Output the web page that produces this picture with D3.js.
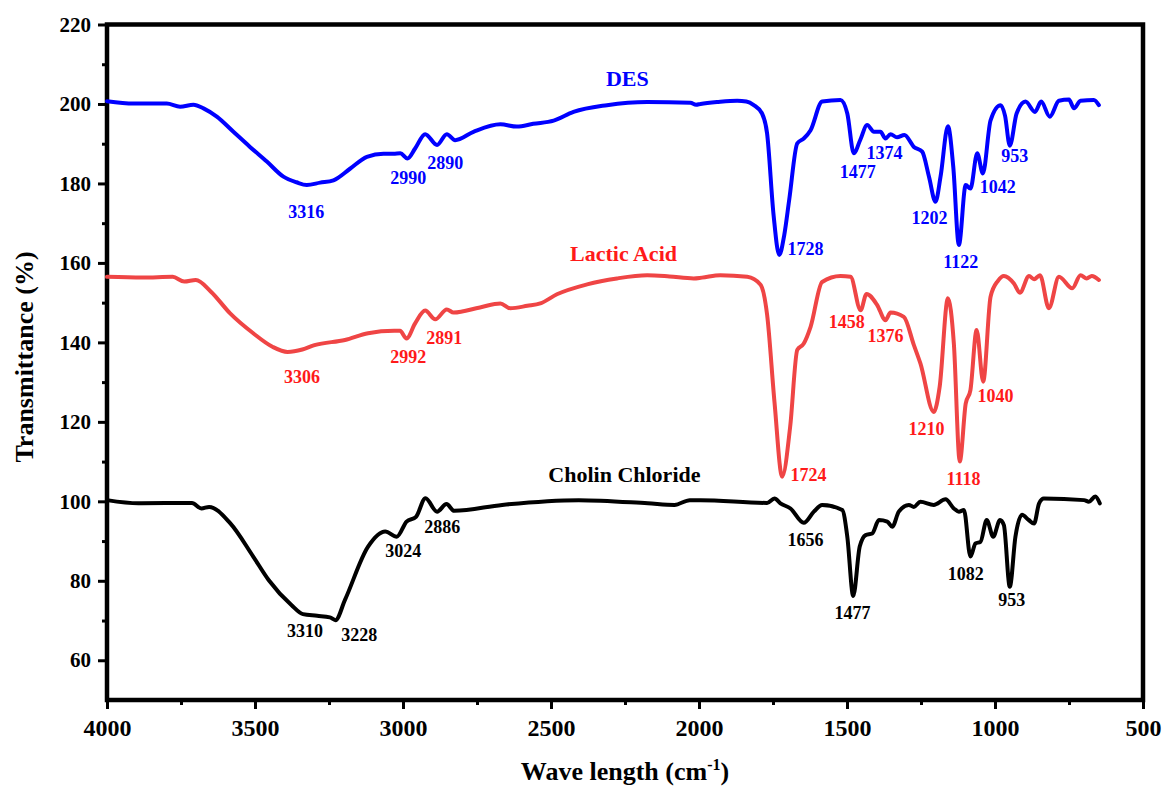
<!DOCTYPE html>
<html>
<head>
<meta charset="utf-8">
<script src="https://cdn.jsdelivr.net/npm/d3@7"></script>
<style>
  body { margin: 0; background: #fff; }
  text { font-family: "Liberation Serif", "Times New Roman", serif; font-weight: bold; }
</style>
</head>
<body>
<div id="chart"></div>
<script>
// spectra: [wavenumber, transmittance]
var desData = [[4000,200.7],[3910,200.1],[3798,200.1],[3753,199.3],[3708,199.8],[3674,198.9],[3629,196.8],[3573,193],[3517,189.2],[3460,185.5],[3404,181.7],[3360,180.3],[3325,179.6],[3280,180.2],[3235,180.8],[3179,183.7],[3122,186.7],[3066,187.5],[3032,187.5],[3009,187.6],[2985,186.3],[2959,188.8],[2925,192.4],[2885,189.7],[2852,192.4],[2824,190.9],[2762,193],[2671,194.9],[2615,194.3],[2560,195],[2491,195.8],[2424,198],[2311,199.7],[2175,200.5],[2029,200.3],[2010,199.8],[1995,200],[1935,200.5],[1871,200.8],[1840,200.6],[1815,199.7],[1787,197.6],[1770,192.6],[1748,172],[1729,162],[1712,167],[1695,176],[1668,190.1],[1646,191.3],[1623,193.4],[1584,200.6],[1522,201],[1499,197.6],[1477,187.6],[1455,191],[1432,194.7],[1409,193],[1387,193],[1370,191.3],[1353,192.4],[1331,191.6],[1306,192.2],[1274,189.2],[1246,188],[1223,181.7],[1201,175.4],[1184,181.7],[1159,194.4],[1141,184.2],[1122,164.5],[1099,179.6],[1083,178.7],[1060,187.6],[1041,182.5],[1015,195.9],[981,199.7],[966,197],[950,189.5],[927,197.6],[897,200.6],[865,198],[844,200.6],[815,196.8],[784,200.8],[750,201.1],[733,198.9],[711,200.8],[666,201],[649,199.7]]

var lacticData = [[4000,156.5],[3880,156.3],[3778,156.5],[3739,155.3],[3700,155.7],[3648,152.7],[3584,147.3],[3506,142.3],[3441,138.9],[3390,137.6],[3340,138.2],[3299,139.3],[3196,140.6],[3118,142.3],[3030,142.9],[3010,142.9],[2988,141],[2959,144.8],[2925,148],[2891,145.8],[2852,148.3],[2829,147.5],[2740,148.8],[2671,149.8],[2638,148.6],[2580,149.2],[2536,149.8],[2480,152.1],[2378,154.6],[2277,156.1],[2175,156.9],[2100,156.6],[2018,156.1],[1990,156.3],[1928,156.9],[1837,156.5],[1792,154.5],[1770,147],[1745,125],[1719,106.2],[1692,118.8],[1668,138.1],[1646,139.7],[1623,143.9],[1584,155.2],[1522,156.7],[1488,156.5],[1454,148.1],[1434,152.2],[1398,149.4],[1370,145.6],[1353,147.5],[1308,146.4],[1274,139.3],[1252,134.7],[1207,122.5],[1187,128.8],[1159,151.1],[1139,139.7],[1119,110],[1099,124.6],[1083,128],[1062,143.1],[1040,130.1],[1015,151.5],[990,155.5],[970,156.7],[936,154.8],[916,152.5],[885,156.7],[868,155.9],[848,156.9],[818,148.6],[784,156.5],[739,153.6],[711,156.9],[690,156.1],[673,156.7],[649,155.7]]

var cholinData = [[4000,100.3],[3894,99.5],[3713,99.6],[3681,98.2],[3655,98.6],[3584,94.5],[3506,86.1],[3454,80.2],[3377,73.9],[3338,71.6],[3290,71.2],[3247,70.8],[3228,70.1],[3196,75.2],[3118,88.6],[3060,92.4],[3021,91.1],[2988,94.9],[2956,96.1],[2924,100.8],[2885,97.4],[2853,99.3],[2827,97.6],[2665,99.1],[2406,100.3],[2173,99.5],[2083,99.1],[2031,100.3],[1995,100.3],[1770,99.6],[1745,100.7],[1725,99.5],[1691,98.2],[1646,94.6],[1612,97.4],[1584,99.1],[1516,97.8],[1499,91.1],[1479,76.2],[1457,88.6],[1437,91.5],[1415,91.9],[1392,95.3],[1364,94.9],[1347,93.6],[1325,97.4],[1291,99.1],[1274,98.6],[1252,99.9],[1207,99.1],[1167,100.5],[1139,98.2],[1122,97.4],[1105,97.8],[1083,86.1],[1066,89.4],[1049,89.8],[1028,95.3],[1006,91.1],[983,95.3],[970,94],[950,78.5],[931,91.1],[909,96.6],[886,95.3],[868,94.4],[851,99.5],[835,100.7],[699,100.3],[683,99.9],[661,101.2],[646,99.5]]

// peak labels: [text, wavenumber, transmittance, anchor]
var desPeaks = [["3316",3327,171.3,"middle"],["2990",2982,179.9,"middle"],["2890",2857,183.6,"middle"],["1728",1701,162,"start"],["1477",1464,181.4,"middle"],["1374",1373,186.2,"middle"],["1202",1221,169.8,"middle"],["1122",1116,158.7,"middle"],["1042",991,177.6,"middle"],["953",933,185.4,"middle"]]
var lacticPeaks = [["3306",3341,129.8,"middle"],["2992",2982,134.8,"middle"],["2891",2861,139.6,"middle"],["1724",1691,105.1,"start"],["1458",1501,143.6,"middle"],["1376",1370,140.1,"middle"],["1210",1231,116.7,"middle"],["1118",1106,104.1,"middle"],["1040",998,125,"middle"]]
var cholinPeaks = [["3310",3331,65.9,"middle"],["3228",3148,64.8,"middle"],["3024",2999,86,"middle"],["2886",2867,92,"middle"],["1656",1640,88.8,"middle"],["1477",1481,70.4,"middle"],["1082",1099,80.2,"middle"],["953",943,73.7,"middle"]]

var seriesNames = ["DES", "Lactic Acid", "Cholin Chloride"]
var namePos = [[2242,204.5],[2255,160.5],[2252,104.9]]

var xTicks = [4000,3500,3000,2500,2000,1500,1000,500]
var xMinor = [3750,3250,2750,2250,1750,1250,750]
var yTicks = [60,80,100,120,140,160,180,200,220]
var yMinor = [70,90,110,130,150,170,190,210]

var svg_width = 1163, svg_height = 787
var plotLeft = 107, plotRight = 1143, plotTop = 24.5, plotBottom = 700

var svg = d3.select("#chart")
  .append("svg")
  .attr("width", svg_width)
  .attr("height", svg_height)

var xScale = d3.scaleLinear().domain([4000, 500]).range([plotLeft, plotRight])
var yScale = d3.scaleLinear().domain([50, 220]).range([plotBottom, plotTop])

// minor ticks first, then major with labels
svg.append("g")
  .attr("transform", `translate(0, ${plotBottom})`)
  .call(d3.axisBottom(xScale).tickValues(xMinor).tickSize(5).tickFormat(""))
  .call(g => g.select(".domain").remove())
  .selectAll("line").attr("stroke-width", 3)

svg.append("g")
  .attr("transform", `translate(${plotLeft}, 0)`)
  .call(d3.axisLeft(yScale).tickValues(yMinor).tickSize(5).tickFormat(""))
  .call(g => g.select(".domain").remove())
  .selectAll("line").attr("stroke-width", 3)

var xAxis = svg.append("g")
  .attr("transform", `translate(0, ${plotBottom})`)
  .call(d3.axisBottom(xScale).tickValues(xTicks).tickSize(9).tickPadding(10).tickFormat(d3.format("d")))
xAxis.select(".domain").remove()
xAxis.selectAll("line").attr("stroke-width", 3)
xAxis.selectAll("text")
  .style("font-size", "24px")
  .attr("fill", "#000")

var yAxis = svg.append("g")
  .attr("transform", `translate(${plotLeft}, 0)`)
  .call(d3.axisLeft(yScale).tickValues(yTicks).tickSize(9).tickPadding(7))
yAxis.select(".domain").remove()
yAxis.selectAll("line").attr("stroke-width", 3)
yAxis.selectAll("text")
  .style("font-size", "21px")
  .attr("fill", "#000")

// frame
svg.append("rect")
  .attr("x", plotLeft).attr("y", plotTop)
  .attr("width", plotRight - plotLeft).attr("height", plotBottom - plotTop)
  .attr("fill", "none")
  .attr("stroke", "#000")
  .attr("stroke-width", 4.5)

var line = d3.line()
  .x(d => xScale(d[0]))
  .y(d => yScale(d[1]))
  .curve(d3.curveMonotoneX)

var series = [
  { data: desData, peaks: desPeaks, line: "#0000ff", text: "#0000ff" },
  { data: lacticData, peaks: lacticPeaks, line: "#ef4545", text: "#ff1a1a" },
  { data: cholinData, peaks: cholinPeaks, line: "#000000", text: "#000000" }
]

series.forEach((s, i) => {
  svg.append("path")
    .datum(s.data)
    .attr("d", line)
    .attr("fill", "none")
    .attr("stroke", s.line)
    .attr("stroke-width", 4)
    .attr("stroke-linejoin", "round")
    .attr("stroke-linecap", "round")

  svg.append("g")
    .selectAll("text")
    .data(s.peaks)
    .enter()
      .append("text")
      .attr("x", d => xScale(d[1]))
      .attr("y", d => yScale(d[2]))
      .attr("text-anchor", d => d[3])
      .attr("fill", s.text)
      .style("font-size", "18px")
      .text(d => d[0])

  svg.append("text")
    .attr("x", xScale(namePos[i][0]))
    .attr("y", yScale(namePos[i][1]))
    .attr("text-anchor", "middle")
    .attr("fill", s.text)
    .style("font-size", "22px")
    .text(seriesNames[i])
})

// axis titles
svg.append("text")
  .attr("transform", "translate(33, 357) rotate(-90)")
  .attr("text-anchor", "middle")
  .style("font-size", "26px")
  .text("Transmittance (%)")

var xt = svg.append("text")
  .attr("x", 625)
  .attr("y", 780)
  .attr("text-anchor", "middle")
  .style("font-size", "26px")
xt.append("tspan").text("Wave length (cm")
xt.append("tspan").attr("dy", -10).style("font-size", "16px").text("-1")
xt.append("tspan").attr("dy", 10).text(")")
</script>
</body>
</html>
